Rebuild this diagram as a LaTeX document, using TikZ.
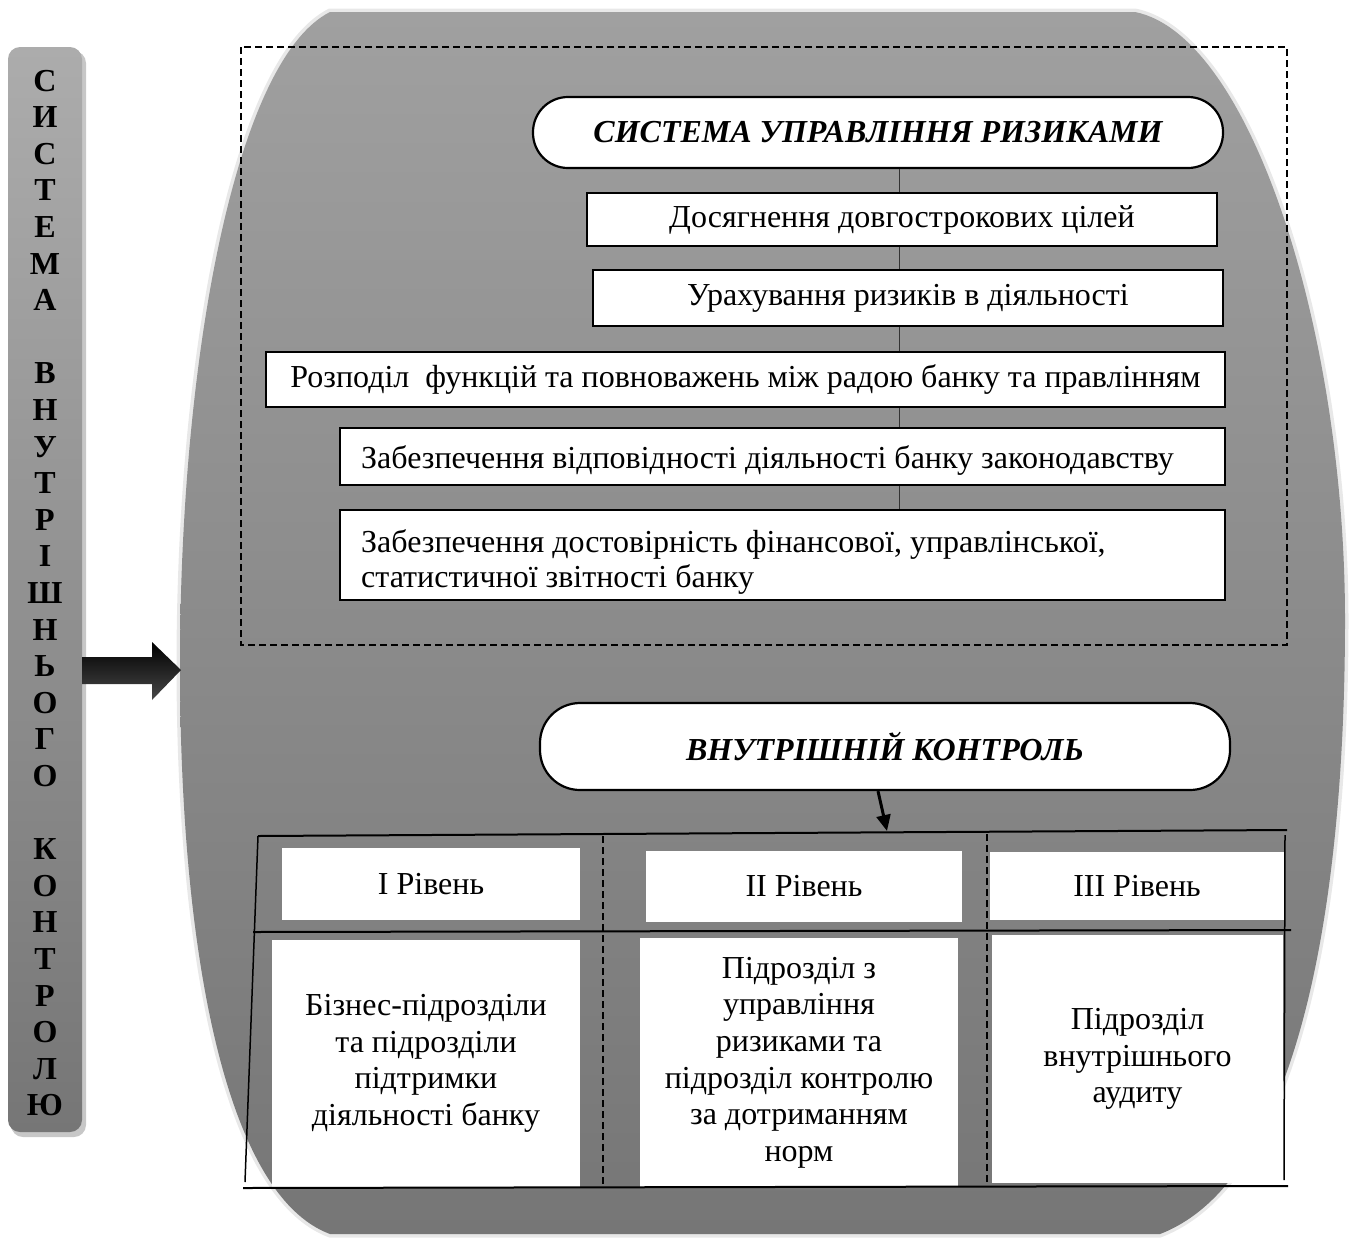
\documentclass[tikz,border=0pt]{standalone}
\usepackage{fontspec}
\setmainfont{Liberation Serif}
\usetikzlibrary{arrows.meta,calc}
\definecolor{shtop}{RGB}{160,160,160}
\definecolor{shbot}{RGB}{118,118,118}
\definecolor{bartop}{RGB}{172,172,172}
\definecolor{barbot}{RGB}{118,118,118}
\definecolor{rim}{RGB}{232,232,232}
\begin{document}
\begin{tikzpicture}[x=1pt,y=-1pt,
  bodyfont/.style={font=\fontsize{32}{36.6}\selectfont},
  headfont/.style={font=\fontsize{32}{38}\selectfont\bfseries\itshape},
  wbox/.style={draw=black,line width=2.2pt,fill=white,inner sep=0pt,bodyfont,align=center},
  hbox/.style={draw=black,line width=2.2pt,fill=white,inner sep=0pt,headfont,align=center},
  cell/.style={fill=white,inner sep=0pt,bodyfont,align=center},
  ltext/.style={bodyfont,anchor=base west,inner sep=0pt},
  tline/.style={line width=2pt,black},
  tdash/.style={line width=1.2pt,black,dash pattern=on 7pt off 4pt},
  conn/.style={line width=0.8pt,black!80},
  barletter/.style={font=\fontsize{32}{32}\selectfont\bfseries,anchor=base,inner sep=0pt}
]
\useasboundingbox (0,0) rectangle (1360,1243);

% big grey shape with light rim
\def\bigshape{(330,12) -- (1135,12) .. controls (1250,35) and (1345,330) .. (1345,620)
  .. controls (1345,900) and (1300,1180) .. (1160,1234) -- (330,1234)
  .. controls (225,1195) and (180,950) .. (180,665) .. controls (180,360) and (235,60) .. (330,12) -- cycle}
\draw[rim,line width=7pt] \bigshape;
\shade[top color=shtop,bottom color=shbot] \bigshape;

% left vertical bar
\fill[black!22,rounded corners=12pt] (11,51) rectangle (86,1137);
\shade[top color=bartop,bottom color=barbot,rounded corners=12pt] (8,47) rectangle (82,1132);
\foreach \l/\k in {С/0,И/1,С/2,Т/3,Е/4,М/5,А/6,В/8,Н/9,У/10,Т/11,Р/12,І/13,Ш/14,Н/15,Ь/16,О/17,Г/18,О/19,К/21,О/22,Н/23,Т/24,Р/25,О/26,Л/27,Ю/28}
  \node[barletter] (bl\k) at (45,{91+36.6*\k}) {\l};

% thick arrow
\shade[top color=black,bottom color=black!72] (82,657) -- (152,657) -- (152,642) -- (181,670) -- (152,700) -- (152,684) -- (82,684) -- cycle;

% dashed frame
\draw[tdash] (241,47) rectangle (1287,645);

% risk management block
\node[hbox,minimum width=690pt,minimum height=71pt,rounded corners=35pt] (h1) at (878,132.5) {СИСТЕМА УПРАВЛІННЯ РИЗИКАМИ};
\node[wbox,minimum width=630pt,minimum height=53pt] (b1) at (902,219.5) {Досягнення довгострокових цілей};
\node[wbox,minimum width=630pt,minimum height=56pt] (b2) at (908,298) {Урахування ризиків в діяльності};
\node[wbox,minimum width=959pt,minimum height=55pt] (b3) at (745.5,379.5) {Розподіл\ \ функцій та повноважень між радою банку та правлінням};
\node[wbox,minimum width=885pt,minimum height=57pt] (b4) at (782.5,456.5) {};
\node[ltext] (t4) at (361,468) {Забезпечення відповідності діяльності банку законодавству};
\node[wbox,minimum width=885pt,minimum height=90pt] (b5) at (782.5,555) {};
\node[ltext] (t5) at (361,552) {Забезпечення достовірність фінансової, управлінської,};
\node[ltext] (t5b) at (361,587) {статистичної звітності банку};

\coordinate (lx) at (899,0);
\draw[conn] (h1.south -| lx) -- (b1.north -| lx);
\draw[conn] (b1.south -| lx) -- (b2.north -| lx);
\draw[conn] (b2.south -| lx) -- (b3.north -| lx);
\draw[conn] (b3.south -| lx) -- (b4.north -| lx);
\draw[conn] (b4.south -| lx) -- (b5.north -| lx);

% internal control block
\node[hbox,minimum width=690pt,minimum height=87pt,rounded corners=40pt] (h2) at (885,746.5) {ВНУТРІШНІЙ КОНТРОЛЬ};

% table
\coordinate (tTL) at (258,836);
\coordinate (tTR) at (1287,830);
\coordinate (tBL) at (245,1182);
\coordinate (tML) at (253,932);
\coordinate (tMR) at (1291,930);
\coordinate (bBL) at (243,1188);
\coordinate (bBR) at (1288,1186);
\coordinate (rT) at (1285,835);
\coordinate (rB) at (1284,1180);
\coordinate (d1T) at (603,836);
\coordinate (d1B) at (603,1185);
\coordinate (d2T) at (987,834);
\coordinate (d2B) at (987,1183);
\coordinate (ax) at (878,0);
\coordinate (aend) at (887,831);

\node[cell,minimum width=298pt,minimum height=72pt] (c1h) at (431,884) {I Рівень};
\node[cell,minimum width=316pt,minimum height=71pt] (c2h) at (804,886.5) {II Рівень};
\node[cell,minimum width=294pt,minimum height=68pt] (c3h) at (1137,886) {III Рівень};
\node[cell,minimum width=308pt,minimum height=247pt] (c1b) at (426,1063.5) {Бізнес-підрозділи\\та підрозділи\\підтримки\\діяльності банку};
\node[cell,minimum width=318pt,minimum height=249pt] (c2b) at (799,1062.5) {Підрозділ з\\управління\\ризиками та\\підрозділ контролю\\за дотриманням\\норм};
\node[cell,minimum width=291pt,minimum height=248pt] (c3b) at (1137.5,1059) {Підрозділ\\внутрішнього\\аудиту};

\draw[tline] (tTL) -- (tTR);
\draw[line width=1.5pt] (tTL) -- (tBL);
\draw[line width=1.5pt] (rT) -- (rB);
\draw[tline] (tML) -- (tMR);
\draw[tline] (bBL) -- (bBR);
\draw[tdash] (d1T) -- (d1B);
\draw[tdash] (d2T) -- (d2B);

\draw[line width=3pt,-{Triangle[length=16pt,width=14pt]}] (h2.south -| ax) -- (aend);
\end{tikzpicture}
\end{document}
